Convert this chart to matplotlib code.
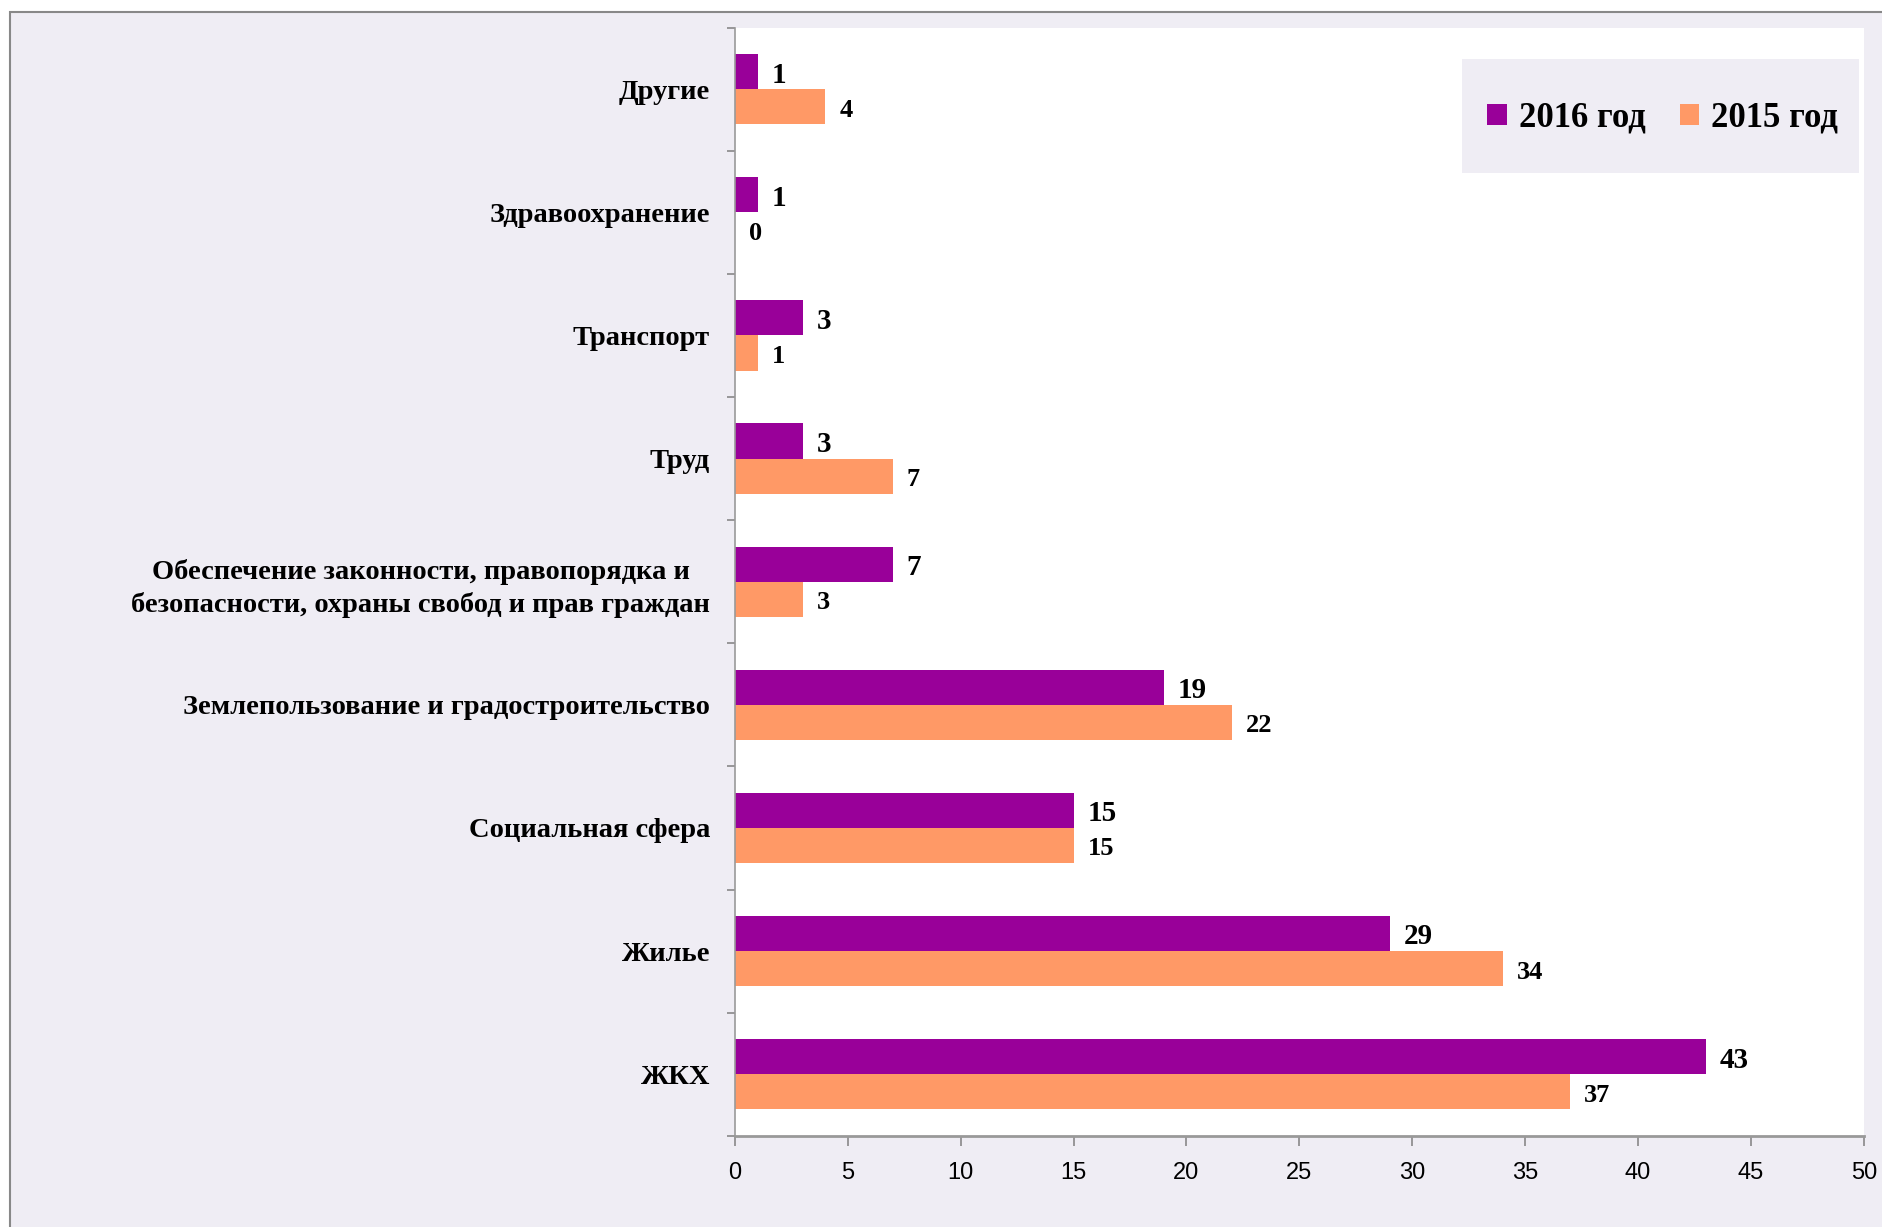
import numpy as np
import matplotlib as mpl
mpl.use('Agg')
import matplotlib.pyplot as plt
from matplotlib.patches import Rectangle

categories = ['Другие', 'Здравоохранение', 'Транспорт', 'Труд',
              'Обеспечение законности, правопорядка и\nбезопасности, охраны свобод и прав граждан',
              'Землепользование и градостроительство', 'Социальная сфера', 'Жилье', 'ЖКХ']
values_2016 = [1, 1, 3, 3, 7, 19, 15, 29, 43]
values_2015 = [4, 0, 1, 7, 3, 22, 15, 34, 37]
series_names = ['2016 год', '2015 год']
xticks = [0, 5, 10, 15, 20, 25, 30, 35, 40, 45, 50]

purple = '#990099'
orange = '#FF9966'
lavender = '#EFEDF4'
serif = 'Liberation Serif'

fig = plt.figure(figsize=(18.83, 12.27), dpi=100)
fig.patch.set_facecolor('white')
# outer chart frame
fig.patches.append(Rectangle((8/1568, -0.05), 1.1, 0.05 + 1 - 10/1022, transform=fig.transFigure,
                             facecolor=lavender, edgecolor='#888888', linewidth=1.5, zorder=-10))

ax = fig.add_axes([612/1568, 1 - 946/1022, 940/1568, 923/1022])
ax.set_facecolor('white')

y = np.arange(len(categories))
h = 0.285
ax.barh(y - h/2, values_2016, height=h, color=purple, label=series_names[0])
ax.barh(y + h/2, values_2015, height=h, color=orange, label=series_names[1])

for yy, v in zip(y - h/2, values_2016):
    ax.annotate(str(v), (v, yy), xytext=(10, -2.5), textcoords='offset points', va='center', ha='left',
                fontsize=21, fontweight='bold', family=serif)
for yy, v in zip(y + h/2, values_2015):
    ax.annotate(str(v), (v, yy), xytext=(10, -2.5), textcoords='offset points', va='center', ha='left',
                fontsize=19, fontweight='bold', family=serif)

ax.set_ylim(len(categories) - 0.5, -0.5)
ax.set_xlim(0, 50)
ax.set_xticks(xticks)
ax.set_xticklabels([str(t) for t in xticks], family='Liberation Sans', fontsize=17)
ax.set_yticks(y)
ax.set_yticklabels(categories, family=serif, fontweight='bold', fontsize=20.5, linespacing=1.35,
                   multialignment='center')
ax.set_yticks(np.arange(len(categories) + 1) - 0.5, minor=True)
ax.tick_params(axis='y', which='major', length=0, pad=18)
ax.tick_params(axis='y', which='minor', length=6, color='#888888', width=1.2)
ax.tick_params(axis='x', length=7, color='#888888', width=1.2, pad=12)

for s in ['top', 'right']:
    ax.spines[s].set_visible(False)
ax.spines['left'].set_color('#999999')
ax.spines['left'].set_linewidth(1.2)
ax.spines['bottom'].set_color('#999999')
ax.spines['bottom'].set_linewidth(2)

# legend box
ax.add_patch(Rectangle((0.644, 0.869), 0.352, 0.103, transform=ax.transAxes,
                       facecolor=lavender, edgecolor='none', zorder=4))
leg = ax.legend(loc='center', bbox_to_anchor=(0.822, 0.918), ncol=2, frameon=False,
                prop={'family': serif, 'weight': 'bold', 'size': 25}, handlelength=0.55, handleheight=0.55,
                handletextpad=0.35, columnspacing=1.0, borderpad=0, borderaxespad=0)
leg.set_zorder(5)

fig.savefig('out.png', dpi=100, facecolor=fig.get_facecolor())
